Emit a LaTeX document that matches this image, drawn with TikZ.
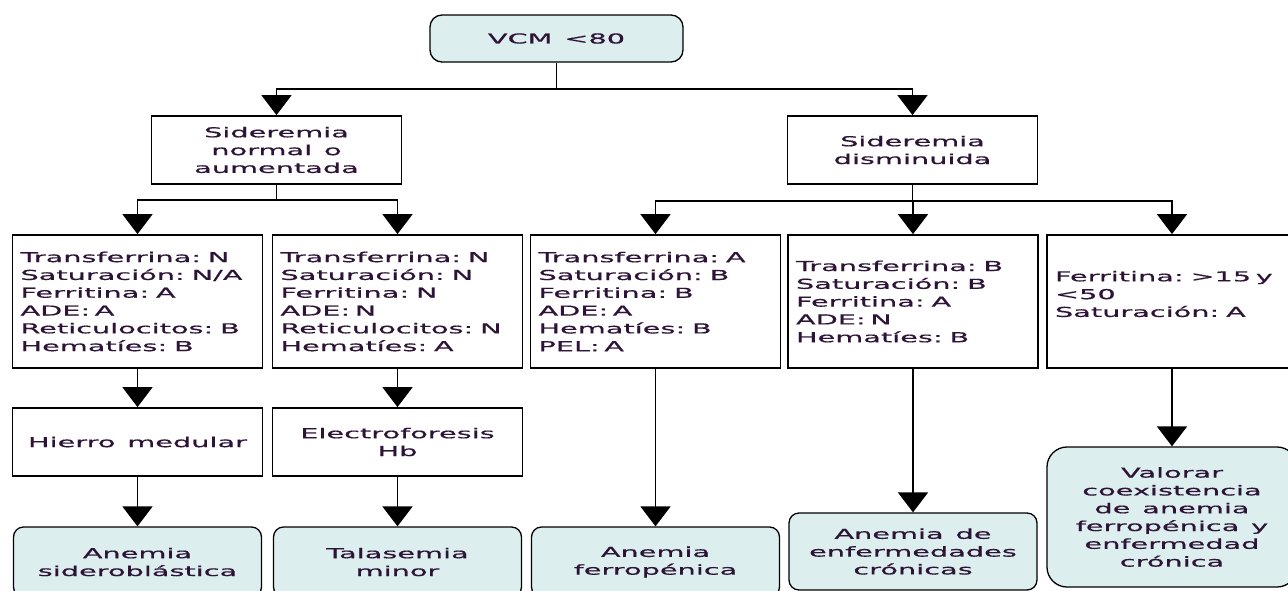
\documentclass[tikz,border=0pt]{standalone}
\usepackage{fontspec}
\setmainfont{DejaVu Sans}[FakeStretch=2.1,FakeBold=0.6,WordSpace=1.3]
\usetikzlibrary{arrows.meta,positioning}
\definecolor{resfill}{RGB}{221,238,238}
\definecolor{txtcol}{RGB}{45,20,55}

\begin{document}
\begin{tikzpicture}[x=1pt,y=-1pt,font=\fontsize{13.7}{17.8}\selectfont,text=txtcol]
\tikzstyle{block} = [rectangle, draw, line width=1.8pt, align=center, minimum width=250pt, minimum height=68pt, inner sep=0pt]
\tikzstyle{list} = [rectangle, draw, line width=1.8pt, align=left, text width=234pt, minimum height=133pt, inner xsep=8pt, inner ysep=0pt]
\tikzstyle{result} = [rectangle, draw, line width=1.3pt, rounded corners=10pt, fill=resfill, align=center, minimum width=248pt, minimum height=70pt, inner sep=0pt]
\tikzstyle{arrow} = [-{Triangle[width=30pt,length=20pt]}, line width=1.8pt]
\useasboundingbox (0,0) rectangle (1288,590);
\node[result, minimum width=253pt, minimum height=47pt, rounded corners=12pt] (vcm) at (556.5,38.5) {VCM <80};
\node[block] (sidn) at (276.5,150) {Sideremia\\normal o\\aumentada};
\node[block] (sidd) at (912.5,150) {Sideremia\\disminuida};
\node[list] (t1) at (137.5,301.5) {Transferrina: N\\Saturación: N/A\\Ferritina: A\\ADE: A\\Reticulocitos: B\\Hematíes: B};
\node[list] (t2) at (397.5,301.5) {Transferrina: N\\Saturación: N\\Ferritina: N\\ADE: N\\Reticulocitos: N\\Hematíes: A};
\node[list] (t3) at (655.5,301.5) {Transferrina: A\\Saturación: B\\Ferritina: B\\ADE: A\\Hematíes: B\\PEL: A};
\node[list] (t4) at (913,301.5) {Transferrina: B\\Saturación: B\\Ferritina: A\\ADE: N\\Hematíes: B};
\node[list] (t5) at (1172,301.5) {};
\node[text width=234pt, align=left, inner sep=0pt] (t5txt) at (1172,294) {Ferritina: >15 y\\<50\\Saturación: A};
\node[block] (hm) at (137.5,442) {Hierro medular};
\node[block] (eh) at (397.5,442) {Electroforesis\\Hb};
\node[result] (as) at (137.5,562) {Anemia\\sideroblástica};
\node[result] (tm) at (397.5,562) {Talasemia\\minor};
\node[result] (af) at (655.5,562) {Anemia\\ferropénica};
\node[result, minimum height=77pt] (aec) at (913,551.5) {Anemia de\\enfermedades\\crónicas};
\node[result, minimum width=250pt, minimum height=140pt, rounded corners=20pt] (val) at (1172,517) {Valorar\\coexistencia\\de anemia\\ferropénica y\\enfermedad\\crónica};
\draw[arrow] (vcm.south) -- ++(0,26) -| (sidn.north);
\draw[arrow] (vcm.south) -- ++(0,26) -| (sidd.north);
\draw[arrow] (sidn.south) -- ++(0,15) -| (t1.north);
\draw[arrow] (sidn.south) -- ++(0,15) -| (t2.north);
\draw[arrow] (sidd.south) -- ++(0,16) -| (t3.north);
\draw[arrow] (sidd.south) -- ++(0,16) -| (t4.north);
\draw[arrow] (sidd.south) -- ++(0,16) -| (t5.north);
\draw[arrow] (t1.south) -- (hm.north);
\draw[arrow] (hm.south) -- (as.north);
\draw[arrow] (t2.south) -- (eh.north);
\draw[arrow] (eh.south) -- (tm.north);
\draw[arrow] (t3.south) -- (af.north);
\draw[arrow] (t4.south) -- (aec.north);
\draw[arrow] (t5.south) -- (val.north);
\end{tikzpicture}
\end{document}
